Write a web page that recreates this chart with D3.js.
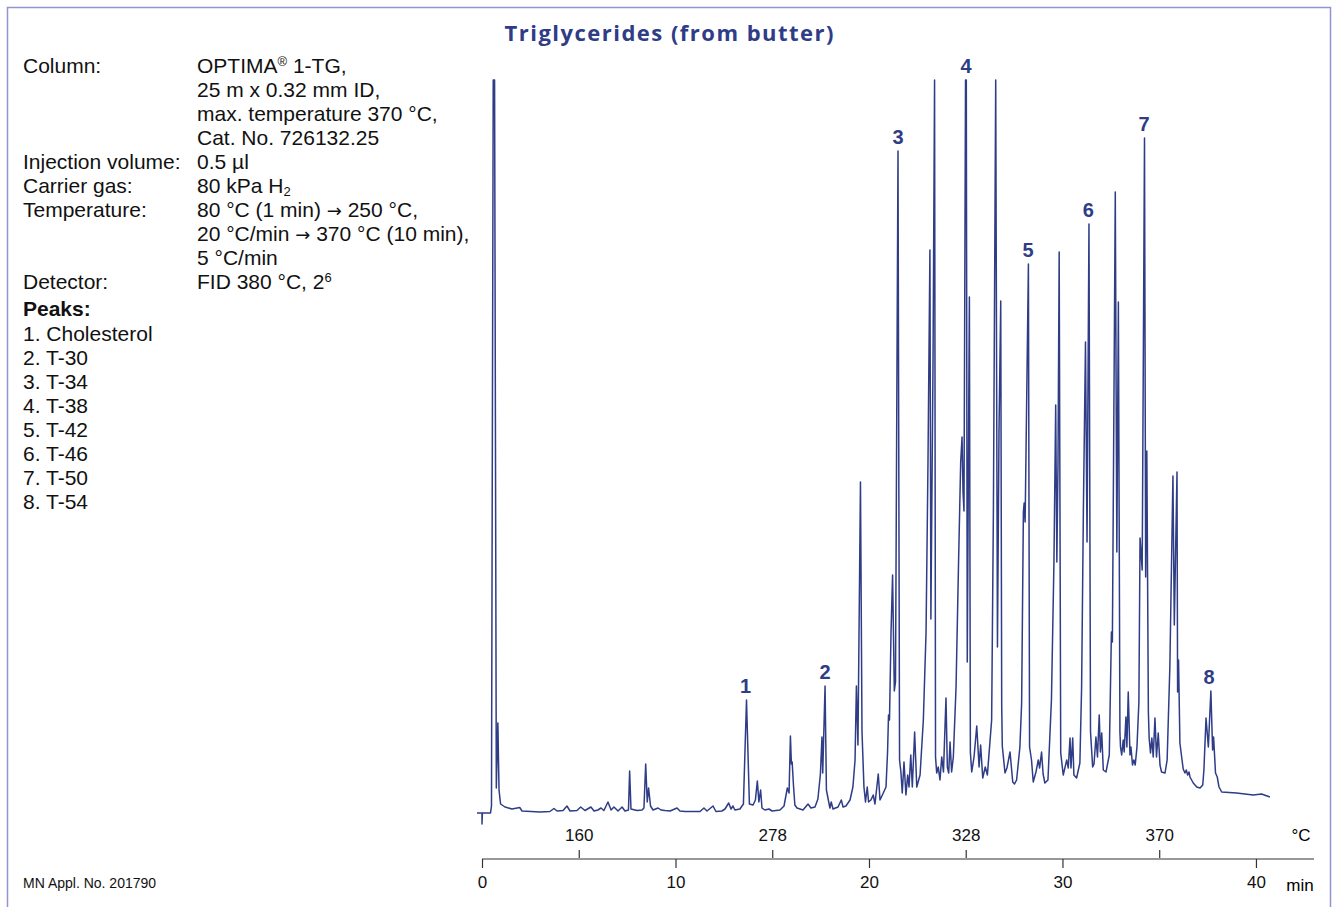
<!DOCTYPE html>
<html>
<head>
<meta charset="utf-8">
<script src="https://cdn.jsdelivr.net/npm/d3@7"></script>
<style>
  body { margin: 0; background: #fff; }
  svg { display: block; }
  .info { font-family: "Liberation Sans", Arial, sans-serif; font-size: 21px; fill: #111; }
  .axis text { font-family: "Liberation Sans", Arial, sans-serif; font-size: 17px; fill: #111; }
  .axis line, .axis path { stroke: #333; stroke-width: 1.2; }
  .peak-label { font-family: "Liberation Sans", Arial, sans-serif; font-size: 20px; font-weight: bold; fill: #2f3c86; }
</style>
</head>
<body>
<div id="vis-container"></div>
<script>
// chromatogram trace: [time (min), detector response (arb. units)]
var tracePoints = [
  [-0.26, -1], [0, -1], [0, -12], [0.02, -1], [0.44, -1], [0.49, 6], [0.58, 732], [0.65, 732],
  [0.74, 24], [0.82, 89], [0.88, 22], [0.96, 8], [1.19, 5], [1.55, 3], [1.95, 4.5], [2.07, 1],
  [3.0, 0], [3.51, 0.5], [3.72, 3.5], [3.88, 1], [4.19, 1.5], [4.39, 6], [4.55, 1], [4.91, 1.5],
  [5.1, 5], [5.32, 1.5], [5.63, 5], [5.79, 1], [5.99, 2], [6.15, 4], [6.3, 1.5], [6.51, 10],
  [6.67, 2], [6.82, 5], [7.03, 1], [7.24, 5], [7.39, 1], [7.57, 2], [7.63, 41], [7.7, 3],
  [8.01, 1.5], [8.27, 2], [8.37, 4], [8.46, 48], [8.54, 10], [8.61, 24], [8.71, 6], [8.84, 2],
  [9.1, 4], [9.25, 2], [9.46, 1.5], [9.72, 1], [10.08, 4], [10.23, 1], [10.49, 0.5], [11.27, 0.5],
  [11.47, 4], [11.63, 1], [11.94, 6], [12.09, 0.5], [12.4, 1], [12.56, 3], [12.75, 9], [12.87, 3],
  [12.97, 6], [13.07, 2], [13.33, 3], [13.51, 8], [13.67, 112], [13.82, 8], [14.01, 7], [14.13, 12],
  [14.23, 31], [14.31, 10], [14.4, 22], [14.47, 4], [14.62, 2], [14.83, 3], [14.99, 1], [15.4, 2],
  [15.61, 6], [15.78, 24], [15.87, 19], [15.94, 76], [15.99, 48], [16.03, 50], [16.1, 26], [16.17, 7],
  [16.28, 4], [16.59, 2], [16.85, 8], [17.0, 4], [17.21, 5], [17.36, 13], [17.49, 38], [17.57, 75],
  [17.61, 39], [17.73, 126], [17.8, 22], [17.88, 14], [17.98, 4], [18.05, 10], [18.14, 3], [18.4, 5],
  [18.57, 12], [18.66, 5], [18.81, 6], [19.02, 12], [19.17, 25], [19.28, 52], [19.35, 126], [19.43, 67],
  [19.56, 330], [19.64, 80], [19.74, 25], [19.82, 10], [19.91, 25], [19.98, 10], [20.1, 12], [20.22, 17],
  [20.31, 8], [20.48, 38], [20.57, 12], [20.74, 19], [20.88, 25], [20.96, 60], [21.01, 97], [21.06, 92],
  [21.14, 180], [21.22, 237], [21.31, 121], [21.37, 130], [21.5, 661], [21.58, 52], [21.65, 40], [21.72, 19],
  [21.81, 50], [21.91, 17], [22.0, 37], [22.07, 25], [22.16, 57], [22.24, 25], [22.36, 80], [22.47, 25],
  [22.64, 37], [22.81, 92], [22.95, 180], [23.05, 350], [23.15, 562], [23.2, 193], [23.31, 450], [23.39, 732],
  [23.44, 55], [23.5, 39], [23.58, 45], [23.67, 32], [23.76, 55], [23.85, 40], [23.98, 114], [24.05, 45],
  [24.12, 39], [24.19, 70], [24.27, 40], [24.36, 55], [24.5, 125], [24.63, 250], [24.74, 350], [24.81, 375],
  [24.86, 320], [24.91, 301], [24.99, 732], [25.03, 732], [25.08, 150], [25.19, 515], [25.24, 60], [25.31, 40],
  [25.43, 55], [25.57, 86], [25.69, 45], [25.77, 67], [25.88, 34], [26.01, 45], [26.12, 37], [26.34, 92],
  [26.43, 300], [26.55, 732], [26.64, 165], [26.72, 380], [26.81, 511], [26.86, 107], [26.89, 66], [27.03, 39],
  [27.13, 44], [27.29, 60], [27.43, 30], [27.52, 28], [27.63, 32], [27.8, 65], [27.89, 109], [27.98, 300],
  [28.02, 309], [28.07, 290], [28.24, 548], [28.3, 65], [28.4, 52], [28.49, 30], [28.63, 40], [28.75, 52],
  [28.82, 44], [28.92, 60], [29.0, 38], [29.09, 29], [29.25, 32], [29.43, 112], [29.56, 250], [29.65, 407],
  [29.71, 250], [29.77, 350], [29.83, 560], [29.91, 59], [30.04, 37], [30.22, 52], [30.3, 44], [30.39, 74],
  [30.44, 44], [30.53, 74], [30.59, 37], [30.73, 34], [30.9, 49], [30.99, 125], [31.08, 300], [31.19, 470],
  [31.27, 270], [31.37, 588], [31.45, 80], [31.56, 45], [31.63, 48], [31.73, 75], [31.81, 55], [31.9, 97],
  [31.96, 60], [32.03, 79], [32.11, 42], [32.25, 40], [32.42, 57], [32.53, 180], [32.58, 170], [32.73, 620],
  [32.81, 260], [32.89, 510], [32.97, 80], [33.0, 65], [33.06, 57], [33.14, 72], [33.19, 60], [33.28, 95],
  [33.33, 65], [33.4, 120], [33.49, 57], [33.54, 65], [33.62, 47], [33.69, 52], [33.76, 47], [33.85, 65],
  [33.95, 110], [34.01, 274], [34.12, 242], [34.24, 674], [34.3, 235], [34.36, 361], [34.44, 100], [34.48, 74],
  [34.55, 59], [34.62, 74], [34.69, 55], [34.78, 94], [34.86, 55], [34.95, 79], [35.04, 47], [35.12, 40],
  [35.3, 39], [35.41, 52], [35.55, 145], [35.71, 336], [35.78, 187], [35.92, 340], [35.95, 120], [36.0, 152],
  [36.07, 69], [36.16, 55], [36.24, 43], [36.33, 39], [36.4, 42], [36.47, 37], [36.54, 40], [36.59, 35],
  [36.76, 29], [36.94, 25], [37.11, 24], [37.25, 27], [37.31, 42], [37.42, 94], [37.54, 65], [37.67, 121],
  [37.76, 62], [37.81, 75], [37.91, 39], [38.0, 35], [38.09, 25], [38.23, 20], [39.0, 19], [39.86, 17],
  [40.29, 18], [40.72, 15]
];

// numbered peaks
var peakLabels = ["1", "2", "3", "4", "5", "6", "7", "8"];
var peakTimes = [13.62, 17.73, 21.5, 25.02, 28.22, 31.33, 34.22, 37.58];
var peakHeights = [112, 126, 661, 732, 548, 588, 674, 121];

// axes
var minTicks = [0, 10, 20, 30, 40];
var tempTickTimes = [5, 15, 25, 35];
var tempTickLabels = ["160", "278", "328", "370"];

// conditions text
var conditionLabels = ["Column:", "", "", "", "Injection volume:", "Carrier gas:", "Temperature:", "", "", "Detector:"];
var conditionValues = [
  ["OPTIMA", {sup: "®"}, " 1-TG,"],
  ["25 m x 0.32 mm ID,"],
  ["max. temperature 370 °C,"],
  ["Cat. No. 726132.25"],
  ["0.5 µl"],
  ["80 kPa H", {sub: "2"}],
  ["80 °C (1 min) ", {arrow: "\u2192"}, " 250 °C,"],
  ["20 °C/min ", {arrow: "\u2192"}, " 370 °C (10 min),"],
  ["5 °C/min"],
  ["FID 380 °C, 2", {sup: "6"}]
];
var peakNames = ["1. Cholesterol", "2. T-30", "3. T-34", "4. T-38", "5. T-42", "6. T-46", "7. T-50", "8. T-54"];

var width = 1336;
var height = 907;
var traceColor = "#2f3c86";

var svg = d3.select("#vis-container").append("svg")
    .attr("width", width).attr("height", height);

// frame
svg.append("rect")
    .attr("x", 7.5).attr("y", 7.5)
    .attr("width", 1323).attr("height", 920)
    .attr("fill", "none")
    .attr("stroke", "#9294d2")
    .attr("stroke-width", 1.5);

// title
svg.append("text")
    .attr("x", 669).attr("y", 41)
    .attr("text-anchor", "middle")
    .attr("textLength", 329)
    .attr("lengthAdjust", "spacing")
    .style("font-family", "'Open Sans', 'Noto Sans', sans-serif")
    .style("font-size", "22px")
    .style("font-weight", "bold")
    .style("fill", traceColor)
    .text("Triglycerides (from butter)");

// conditions block
var info = svg.append("g").attr("class", "info");
var lineH = 24;
conditionLabels.forEach((lab, i) => {
    if (lab) {
        info.append("text").attr("x", 23).attr("y", 73 + i * lineH).text(lab);
    }
});
conditionValues.forEach((parts, i) => {
    var t = info.append("text").attr("x", 197).attr("y", 73 + i * lineH);
    parts.forEach(p => {
        if (typeof p === "string") {
            t.append("tspan").text(p);
        } else if (p.sup) {
            t.append("tspan").attr("baseline-shift", "7px").style("font-size", "13px").text(p.sup);
        } else if (p.sub) {
            t.append("tspan").attr("baseline-shift", "-3px").style("font-size", "13px").text(p.sub);
        } else if (p.arrow) {
            t.append("tspan").style("font-family", "'DejaVu Sans', sans-serif").style("font-size", "18px").text(p.arrow);
        }
    });
});

info.append("text").attr("x", 23).attr("y", 316)
    .style("font-weight", "bold").text("Peaks:");
peakNames.forEach((name, i) => {
    info.append("text").attr("x", 23).attr("y", 341 + i * lineH).text(name);
});

svg.append("text")
    .attr("x", 23).attr("y", 888)
    .style("font-family", "'Liberation Sans', Arial, sans-serif")
    .style("font-size", "14px")
    .style("fill", "#111")
    .text("MN Appl. No. 201790");

// scales
var xScale = d3.scaleLinear().domain([0, 43]).range([482, 1314]);
var yScale = d3.scaleLinear().domain([0, 732]).range([812, 80]);

// trace
var line = d3.line()
    .x(d => xScale(d[0]))
    .y(d => yScale(d[1]));

svg.append("path")
    .attr("d", line(tracePoints))
    .attr("fill", "none")
    .attr("stroke", traceColor)
    .attr("stroke-width", 1.5)
    .attr("stroke-linejoin", "round");

// peak numbers
svg.selectAll(".peak-label")
    .data(peakLabels)
    .enter().append("text")
    .attr("class", "peak-label")
    .attr("text-anchor", "middle")
    .attr("x", (d, i) => xScale(peakTimes[i]))
    .attr("y", (d, i) => yScale(peakHeights[i]) - 7)
    .text(d => d);

// time axis (min)
var minAxis = svg.append("g")
    .attr("class", "axis")
    .attr("transform", "translate(0,859)")
    .call(d3.axisBottom(xScale).tickValues(minTicks).tickSize(9).tickSizeOuter(0).tickPadding(8));
minAxis.select(".domain").attr("d", "M" + xScale(0) + ",0H" + xScale(43));

// temperature axis (°C)
var tempAxis = svg.append("g")
    .attr("class", "axis")
    .attr("transform", "translate(0,858)")
    .call(d3.axisTop(xScale).tickValues(tempTickTimes).tickSize(8).tickPadding(9)
        .tickFormat((d, i) => tempTickLabels[i]));
tempAxis.select(".domain").remove();

svg.append("text")
    .attr("x", 1301).attr("y", 841)
    .attr("text-anchor", "middle")
    .style("font-family", "'Liberation Sans', Arial, sans-serif")
    .style("font-size", "17px")
    .text("°C");
svg.append("text")
    .attr("x", 1300).attr("y", 891)
    .attr("text-anchor", "middle")
    .style("font-family", "'Liberation Sans', Arial, sans-serif")
    .style("font-size", "17px")
    .text("min");
</script>
</body>
</html>
